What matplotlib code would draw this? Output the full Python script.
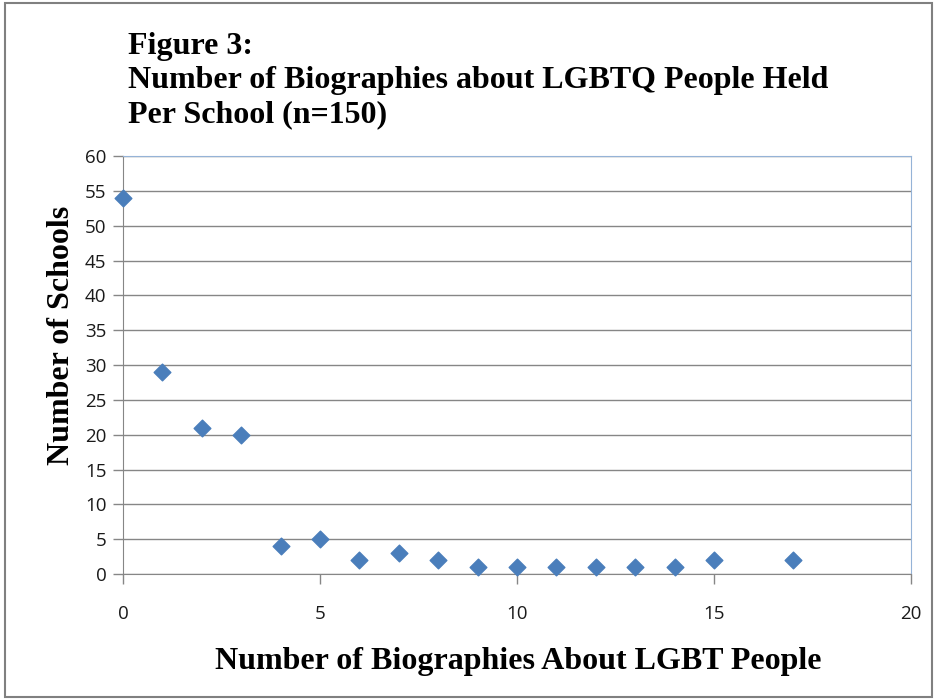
import matplotlib.pyplot as plt
from matplotlib.patches import Rectangle

# number of biographies held -> number of schools
biographies = [0, 1, 2, 3, 4, 5, 6, 7, 8, 9, 10, 11, 12, 13, 14, 15, 17]
schools = [54, 29, 21, 20, 4, 5, 2, 3, 2, 1, 1, 1, 1, 1, 1, 2, 2]
x_ticks = [0, 5, 10, 15, 20]
y_ticks = [0, 5, 10, 15, 20, 25, 30, 35, 40, 45, 50, 55, 60]

title_lines = ["Figure 3:",
               "Number of Biographies about LGBTQ People Held",
               "Per School (n=150)"]

serif = "Liberation Serif"
grid_col = "#868686"

fig = plt.figure(figsize=(9.37, 7), dpi=100)
ax = fig.add_axes([0.1313, 0.18, 0.8410, 0.5971])

ax.scatter(biographies, schools, marker="D", s=72, color="#4A7EBB", zorder=3, clip_on=False)

ax.set_xlim(0, 20)
ax.set_ylim(0, 60)
ax.set_xticks(x_ticks)
ax.set_yticks(y_ticks)
ax.yaxis.grid(True, color=grid_col, linewidth=1)
ax.set_axisbelow(True)

for s in ["left", "bottom"]:
    ax.spines[s].set_color(grid_col)
for s in ["top", "right"]:
    ax.spines[s].set_color("#95B3D7")

ax.tick_params(axis="both", colors=grid_col, length=7, width=1, labelcolor="#1a1a1a",
               labelsize=13.5)
ax.tick_params(axis="x", pad=15)
ax.tick_params(axis="y", pad=5)
for lab in ax.get_xticklabels() + ax.get_yticklabels():
    lab.set_family("Open Sans")

fig.text(0.5528, 0.0557, "Number of Biographies About LGBT People", ha="center", va="center",
         family=serif, weight="bold", fontsize=23)
fig.text(0.066, 0.521, "Number of Schools", ha="center", va="center", rotation=90,
         family=serif, weight="bold", fontsize=23)

for i, line in enumerate(title_lines):
    fig.text(0.1366, 0.934 - i * 0.0486, line, ha="left", va="center",
             family=serif, weight="bold", fontsize=23)

fig.patches.append(Rectangle((0.005, 0.004), 0.99, 0.992, transform=fig.transFigure,
                             fill=False, edgecolor="#808080", linewidth=1.5))

fig.savefig("out.png", dpi=100)
